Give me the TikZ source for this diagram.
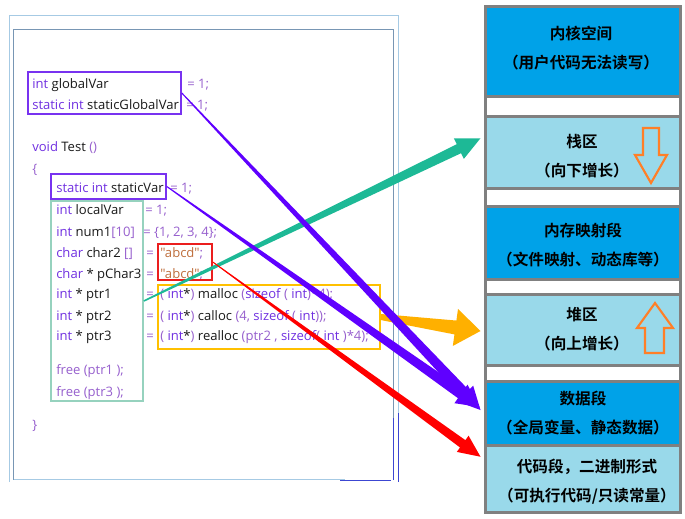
\documentclass[tikz,border=0pt]{standalone}
\usepackage{fontspec}
\newfontfamily\codefont{Open Sans}
\newfontfamily\cjk{Noto Sans CJK SC}[BoldFont={Noto Sans CJK SC Bold}]
\usetikzlibrary{calc,fit}

\definecolor{kwc}{RGB}{112,48,224}
\definecolor{puc}{RGB}{150,95,205}
\definecolor{idc}{RGB}{25,25,25}
\definecolor{qsc}{RGB}{190,110,60}
\definecolor{segdark}{RGB}{0,162,232}
\definecolor{seglight}{RGB}{153,217,234}
\definecolor{seggray}{RGB}{128,128,128}
\definecolor{growc}{RGB}{255,127,39}
\definecolor{tealc}{RGB}{29,185,150}
\definecolor{violetc}{RGB}{95,0,255}
\definecolor{goldc}{RGB}{255,176,0}
\definecolor{thinorange}{RGB}{237,125,49}
\definecolor{boxviolet}{RGB}{120,50,240}
\definecolor{boxgreen}{RGB}{150,210,190}
\definecolor{boxgold}{RGB}{255,192,0}
\definecolor{boxred}{RGB}{235,30,30}
\definecolor{frameout}{RGB}{166,202,228}
\definecolor{framein}{RGB}{120,150,180}
\definecolor{frameblue}{RGB}{60,70,210}

\newcommand{\kw}[1]{\textcolor{kwc}{#1}}
\newcommand{\pu}[1]{\textcolor{puc}{#1}}
\newcommand{\qs}[1]{\textcolor{qsc}{#1}}

% tapered arrow: start, tip, half width at start, half width at head, head half width, head length, colour
\newcommand{\taperarrow}[7]{%
  \coordinate (hb) at ($(#2)!#6!(#1)$);
  \fill[#7] ($(#1)!#3!90:(#2)$) -- ($(hb)!#4!90:(#2)$) -- ($(hb)!#5!90:(#2)$) -- (#2)
    -- ($(hb)!#5!-90:(#2)$) -- ($(hb)!#4!-90:(#2)$) -- ($(#1)!#3!-90:(#2)$) -- cycle;
}

\tikzset{
  code/.style={anchor=base west, inner sep=0pt, font=\codefont\fontsize{9.8}{11}\selectfont, text=idc},
  codebox/.style={draw=#1, line width=1.2pt, inner sep=0pt},
  seg/.style={draw=seggray, line width=2.25pt, fill=#1, inner sep=0pt},
  segtext/.style={align=center, inner sep=0pt, text=black, font=\cjk\bfseries\fontsize{11.7}{21.5}\selectfont},
  growarrow/.style={draw=growc, line width=1.6pt, line join=miter},
}

\begin{document}
\begin{tikzpicture}[x=0.75pt,y=0.75pt,yscale=-1]
\useasboundingbox (0,0) rectangle (685,518);

% frames of the code window
\draw[frameout, line width=1.1pt] (9.5,482) -- (9.5,15.5) -- (398.5,15.5) -- (398.5,413);
\draw[frameblue, line width=1pt] (398.5,413) -- (398.5,482);
\draw[framein, line width=0.9pt] (13.5,479.5) -- (13.5,29.5) -- (393.5,29.5) -- (393.5,418);
\draw[frameblue, line width=1pt] (393.5,418) -- (393.5,480);
\draw[frameout, line width=1.1pt] (13.5,479.5) -- (345,479.5);
\draw[frameblue, line width=1pt] (340,480.5) -- (391,480.5);

% code text
\node[code] (l1) at (32,88) {\kw{int} globalVar};
\node[code] (l1b) at (187,88) {\pu{= 1;}};
\node[code] (l2) at (32,109) {\kw{static int} staticGlobalVar};
\node[code] (l2b) at (186,109) {\pu{= 1;}};
\node[code] (l3) at (32,151) {\kw{void} Test \pu{()}};
\node[code] (l4) at (32,173) {\pu{\{}};
\node[code] (l5) at (56,192) {\kw{static int} staticVar};
\node[code] (l5b) at (170,192) {\pu{= 1;}};
\node[code] (l6) at (56,214) {\kw{int} localVar};
\node[code] (l6b) at (145,214) {\pu{= 1;}};
\node[code] (l7) at (56,236) {\kw{int} num1\pu{[10]}};
\node[code] (l7b) at (143,236) {\pu{= \{1, 2, 3, 4\};}};
\node[code] (l8) at (56,257) {\kw{char} char2 \pu{[]}};
\node[code] (l8b) at (146,257) {\pu{=}};
\node[code] (l8c) at (160,257) {\qs{"abcd"}\pu{;}};
\node[code] (l9) at (56,278) {\kw{char} * pChar3};
\node[code] (l9b) at (146,278) {\pu{=}};
\node[code] (l9c) at (160,278) {\qs{"abcd"}\pu{;}};
\node[code] (l10) at (56,298) {\kw{int} * ptr1};
\node[code] (l10b) at (146,298) {\pu{=}};
\node[code] (l10c) at (160,298) {\pu{(} \kw{int}*\pu{)} malloc \pu{(}\kw{sizeof} \pu{(} \kw{int}\pu{)*4);}};
\node[code] (l11) at (56,320) {\kw{int} * ptr2};
\node[code] (l11b) at (146,320) {\pu{=}};
\node[code] (l11c) at (160,320) {\pu{(} \kw{int}*\pu{)} calloc \pu{(4,} \kw{sizeof} \pu{(} \kw{int}\pu{));}};
\node[code] (l12) at (56,340) {\kw{int} * ptr3};
\node[code] (l12b) at (146,340) {\pu{=}};
\node[code] (l12c) at (160,340) {\pu{(} \kw{int}*\pu{)} realloc \pu{(ptr2 ,} \kw{sizeof}\pu{(} \kw{int} \pu{)*4);}};
\node[code] (l13) at (56,374) {\pu{free (ptr1 );}};
\node[code] (l14) at (56,396) {\pu{free (ptr3 );}};
\node[code] (l15) at (32,429) {\pu{\}}};

% boxes round the code
\node[codebox=boxviolet, fit={(28,72) (181,114)}] (globbox) {};
\node[codebox=boxviolet, fit={(51,174) (166,199)}] (statbox) {};
\node[codebox=boxgreen, fit={(51,201) (143,401)}] (localbox) {};
\node[codebox=boxred, fit={(158,244) (212,280)}] (strbox) {};
\node[codebox=boxgold, fit={(158,285) (380,349)}] (heapbox) {};

% memory layout
\node[seg=segdark, fit={(485,6) (680.5,96)}] (kernel) {};
\node[seg=white, fit={(485,96) (680.5,116)}] (gap1) {};
\node[seg=seglight, fit={(485,116) (680.5,188.5)}] (stack) {};
\node[seg=white, fit={(485,188.5) (680.5,206.5)}] (gap2) {};
\node[seg=segdark, fit={(485,206.5) (680.5,279)}] (mmap) {};
\node[seg=white, fit={(485,279) (680.5,294.5)}] (gap3) {};
\node[seg=seglight, fit={(485,294.5) (680.5,365.5)}] (heap) {};
\node[seg=white, fit={(485,365.5) (680.5,381)}] (gap4) {};
\node[seg=segdark, fit={(485,381) (680.5,445)}] (data) {};
\node[seg=seglight, fit={(485,445) (680.5,512.5)}] (code) {};

\node[segtext] (kernelT) at (581,48) {内核空间\\（用户代码无法读写）};
\node[segtext] (stackT) at (582,156) {栈区\\（向下增长）};
\node[segtext] (mmapT) at (583,245) {内存映射段\\（文件映射、动态库等）};
\node[segtext] (heapT) at (582,329) {堆区\\（向上增长）};
\node[segtext] (dataT) at (583,413) {数据段\\（全局变量、静态数据）};
\node[segtext] (codeT) at (587,482) {代码段，二进制形式\\（可执行代码/只读常量）};

% growth arrows
\draw[growarrow] (643,128) -- (659,128) -- (659,155) -- (667,155) -- (651,183) -- (635,155) -- (643,155) -- cycle;
\draw[growarrow] (645,353) -- (664,353) -- (664,328) -- (673,328) -- (655,303) -- (637,328) -- (645,328) -- cycle;

% where each part goes
\coordinate (tipTeal) at ($(stack.west)+(-3,-14)$);
\coordinate (tipGold) at ($(heap.west)+(-3,1)$);
\coordinate (tipVioA) at ($(data.west)+(-3,-3)$);
\coordinate (tipVioB) at ($(data.west)+(-4,-6)$);
\coordinate (tipRed) at ($(code.west)+(-3,-22)$);
\coordinate (thinEnd) at ($(strbox.east)!0.45!(tipRed)$);

\taperarrow{localbox.east}{tipTeal}{0.6pt}{3.75pt}{8.5pt}{18pt}{tealc}
\taperarrow{heapbox.east}{tipGold}{2.25pt}{5.25pt}{14pt}{19pt}{goldc}
\taperarrow{globbox.east}{tipVioA}{0.4pt}{3.9pt}{8.5pt}{17pt}{violetc}
\taperarrow{statbox.east}{tipVioB}{0.4pt}{3.9pt}{8.5pt}{17pt}{violetc}
\draw[thinorange, line width=0.6pt] (strbox.east) -- (thinEnd);
\taperarrow{strbox.east}{tipRed}{0.3pt}{3.4pt}{7.5pt}{16.5pt}{red}

\end{tikzpicture}
\end{document}
